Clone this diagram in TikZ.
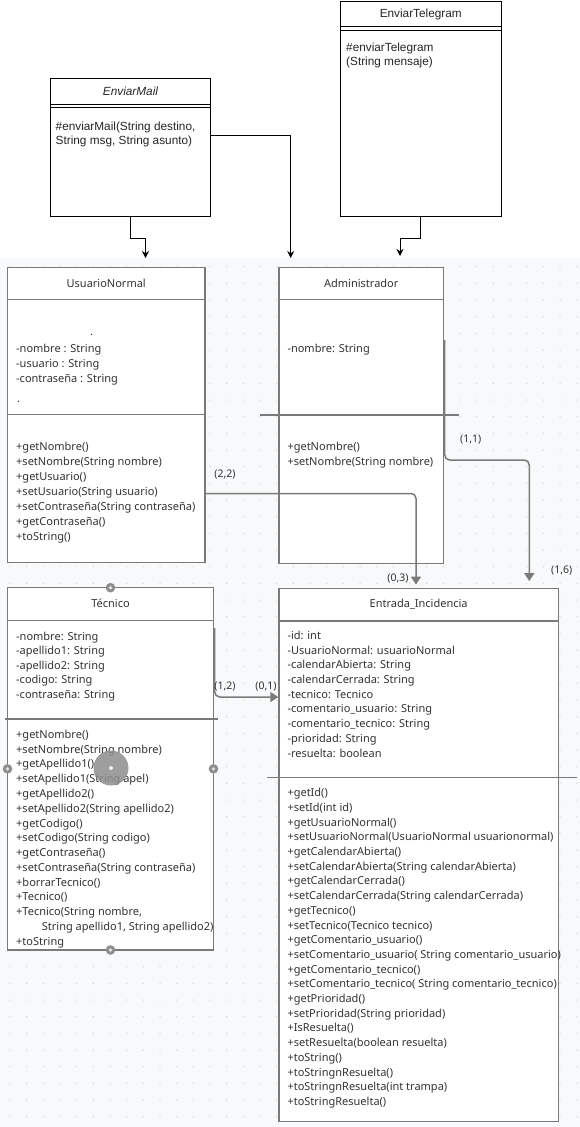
\documentclass[tikz,border=0pt]{standalone}
\usepackage{fontspec}
\setmainfont{Noto Sans}
\newfontfamily\lib{Liberation Sans}
\usetikzlibrary{arrows.meta,calc}
\definecolor{bgc}{HTML}{F8F9FA}
\definecolor{dotc}{HTML}{D8D8D8}
\definecolor{linec}{HTML}{7A7A7A}
\definecolor{txtc}{HTML}{333333}
\definecolor{hndc}{HTML}{8E8E8E}
\begin{document}
\begin{tikzpicture}[x=1pt,y=-1pt,
 txt/.style={anchor=west,inner sep=0pt,text height=8pt,text depth=2.5pt,font=\fontsize{11}{13}\selectfont,text=txtc},
 ttl/.style={txt,anchor=center},
 toptxt/.style={anchor=west,inner sep=0pt,text height=8.5pt,text depth=2.5pt,font=\lib\fontsize{11.8}{14}\selectfont,text=black!85},
 toptl/.style={toptxt,anchor=center},
 box/.style={draw=linec,line width=1.4pt,fill=white,inner sep=0pt},
 topbox/.style={draw=black,line width=0.8pt,fill=white,inner sep=0pt},
 boxline/.style={draw=linec,line width=1.4pt},
 topline/.style={draw=black,line width=0.8pt},
 conn/.style={draw=linec,line width=1.5pt,rounded corners=5pt,-{Triangle[length=8pt,width=10pt]}},
 topconn/.style={draw=black,line width=0.8pt,-{Stealth[length=7pt,width=7pt]}},
 lbl/.style={inner sep=0pt,font=\fontsize{10.5}{12}\selectfont,text=txtc},
 handle/.style={fill=hndc}]
\useasboundingbox (0,0) rectangle (580,1127);
% background
\fill[white] (0,0) rectangle (580,258);
\fill[bgc] (0,258) rectangle (580,1127);
\foreach \gx in {0,...,34}
  \foreach \gy in {0,...,51}
    \fill[dotc] ({10+\gx*16.667},{266.67+\gy*16.667}) circle (0.75);

% ---------- top boxes ----------
\node[topbox,minimum width=160pt,minimum height=138pt] (mail) at (130.5,147) {};
\draw[topline] (50.5,104.5) -- (210.5,104.5);
\draw[topline] (50.5,107.5) -- (210.5,107.5);
\node[toptl,font=\lib\itshape\fontsize{11.8}{14}\selectfont] (mailt) at (130.5,92) {EnviarMail};
\node[toptxt] (mail1) at (55.5,127.5) {\#enviarMail(String destino,};
\node[toptxt] (mail2) at (55.5,141) {String msg, String asunto)};

\node[topbox,minimum width=160.5pt,minimum height=215pt] (tele) at (420.75,108.5) {};
\draw[topline] (340.5,26.5) -- (501,26.5);
\draw[topline] (340.5,30) -- (501,30);
\node[toptl] (telet) at (420.75,14) {EnviarTelegram};
\node[toptxt] (tele1) at (346,48) {\#enviarTelegram};
\node[toptxt] (tele2) at (346,62) {(String mensaje)};

\coordinate (ua) at (145.5,258);
\coordinate (aa) at (290.7,258);
\coordinate (ta) at (400,256);
\draw[topconn] (mail.south) -- ++(0,21.5) -| (ua);
\draw[topconn] ([yshift=11.7pt]mail.east) -| (aa);
\draw[topconn] (tele.south) -- ++(0,21.5) -| (ta);

% ---------- UsuarioNormal ----------
\node[box,minimum width=197.5pt,minimum height=295pt] (un) at (106.25,415) {};
\draw[boxline] (7.5,299.5) -- (205,299.5);
\draw[boxline,line width=1.1pt] (7.5,414.5) -- (205,414.5);
\node[ttl] (unt) at (106.25,284.3) {UsuarioNormal};
\node[txt] (undot1) at (90,332.7) {.};
\node[txt] (undot2) at (17,400) {.};
\foreach \t [count=\i from 0] in {-nombre : String,-usuario : String,-contraseña : String}
  \node[txt] at (16,{349.3+\i*15}) {\t};
\foreach \t [count=\i from 0] in {+getNombre(),+setNombre(String nombre),+getUsuario(),+setUsuario(String usuario),+setContraseña(String contraseña),+getContraseña(),+toString()}
  \node[txt] at (16,{447.7+\i*15}) {\t};

% ---------- Administrador ----------
\node[box,minimum width=164.5pt,minimum height=296pt] (ad) at (361.25,415.5) {};
\draw[boxline] (279,299.5) -- (443.5,299.5);
\draw[boxline,line width=1.1pt] (260,415) -- (459,415);
\node[ttl] (adt) at (361.25,284.3) {Administrador};
\node[txt] (ada) at (287.3,349.3) {-nombre: String};
\foreach \t [count=\i from 0] in {+getNombre(),+setNombre(String nombre)}
  \node[txt] at (287.3,{447.7+\i*15}) {\t};

% ---------- Tecnico ----------
\node[box,minimum width=206pt,minimum height=362.3pt] (tc) at (110.5,768.85) {};
\draw[boxline] (7.5,620.7) -- (213.5,620.7);
\draw[boxline,line width=1.1pt] (5,719) -- (218,719);
\node[ttl] (tct) at (110.5,605) {Técnico};
\foreach \t [count=\i from 0] in {-nombre: String,-apellido1: String,-apellido2: String,-codigo: String,-contraseña: String}
  \node[txt] at (16,{637.3+\i*14.6}) {\t};
\foreach \t [count=\i from 0] in {+getNombre(),+setNombre(String nombre),+getApellido1(),+setApellido1(String apel),+getApellido2(),+setApellido2(String apellido2),+getCodigo(),+setCodigo(String codigo),+getContraseña(),+setContraseña(String contraseña),+borrarTecnico(),+Tecnico(),{+Tecnico(String nombre,},{\hspace*{25.7pt}String apellido1, String apellido2)},+toString}
  \node[txt] at (16,{735.7+\i*14.76}) {\t};

% ---------- Entrada_Incidencia ----------
\node[box,minimum width=279.3pt,minimum height=533.4pt] (ei) at (418.65,855) {};
\draw[boxline] (279,621) -- (558.3,621);
\draw[boxline,line width=1.1pt] (267,777.3) -- (577,777.3);
\node[ttl] (eit) at (418.65,605) {Entrada\_Incidencia};
\foreach \t [count=\i from 0] in {-id: int,-UsuarioNormal: usuarioNormal,-calendarAbierta: String,-calendarCerrada: String,-tecnico: Tecnico,-comentario\_usuario: String,-comentario\_tecnico: String,-prioridad: String,-resuelta: boolean}
  \node[txt] at (287.3,{636.7+\i*14.7}) {\t};
\foreach \t [count=\i from 0] in {+getId(),+setId(int id),+getUsuarioNormal(),+setUsuarioNormal(UsuarioNormal usuarionormal),+getCalendarAbierta(),+setCalendarAbierta(String calendarAbierta),+getCalendarCerrada(),+setCalendarCerrada(String calendarCerrada),+getTecnico(),+setTecnico(Tecnico tecnico),+getComentario\_usuario(),+setComentario\_usuario( String comentario\_usuario),+getComentario\_tecnico(),+setComentario\_tecnico( String comentario\_tecnico),+getPrioridad(),+setPrioridad(String prioridad),+IsResuelta(),+setResuelta(boolean resuelta),+toString(),+toStringnResuelta(),+toStringnResuelta(int trampa),+toStringResuelta()}
  \node[txt] at (287.3,{794+\i*14.7}) {\t};

% ---------- connectors ----------
\coordinate (e03) at ([xshift=137.7pt,yshift=3pt]ei.north west);
\coordinate (e16) at ([xshift=251pt,yshift=6.5pt]ei.north west);
\coordinate (e01) at ([yshift=158pt]ei.west);
\draw[conn] ([yshift=-78.5pt]un.east) -| (e03);
\draw[conn] ([yshift=75.5pt,xshift=0.5pt]ad.east) -- ++(0,120) -| (e16);
\draw[conn] ([yshift=140.85pt,xshift=0.5pt]tc.east) |- (e01);

\node[lbl] (l22) at (225,474.3) {(2,2)};
\node[lbl] (l03) at (398,578.3) {(0,3)};
\node[lbl] (l11) at (470.7,439.3) {(1,1)};
\node[lbl] (l16) at (561.7,571) {(1,6)};
\node[lbl] (l12) at (225,686.7) {(1,2)};
\node[lbl] (l01) at (266,686.7) {(0,1)};

% ---------- selection handles ----------
\foreach \p in {(110.5,587.7),(7.5,768.85),(213.5,768.85),(110.5,950)} {
  \fill[handle] \p circle (4.8);
  \fill[white!75!hndc] \p circle (1.8);
}
\fill[hndc,opacity=0.85] (111,768) circle (17.5);
\fill[white!85!hndc] (111,768) circle (2);
\end{tikzpicture}
\end{document}
